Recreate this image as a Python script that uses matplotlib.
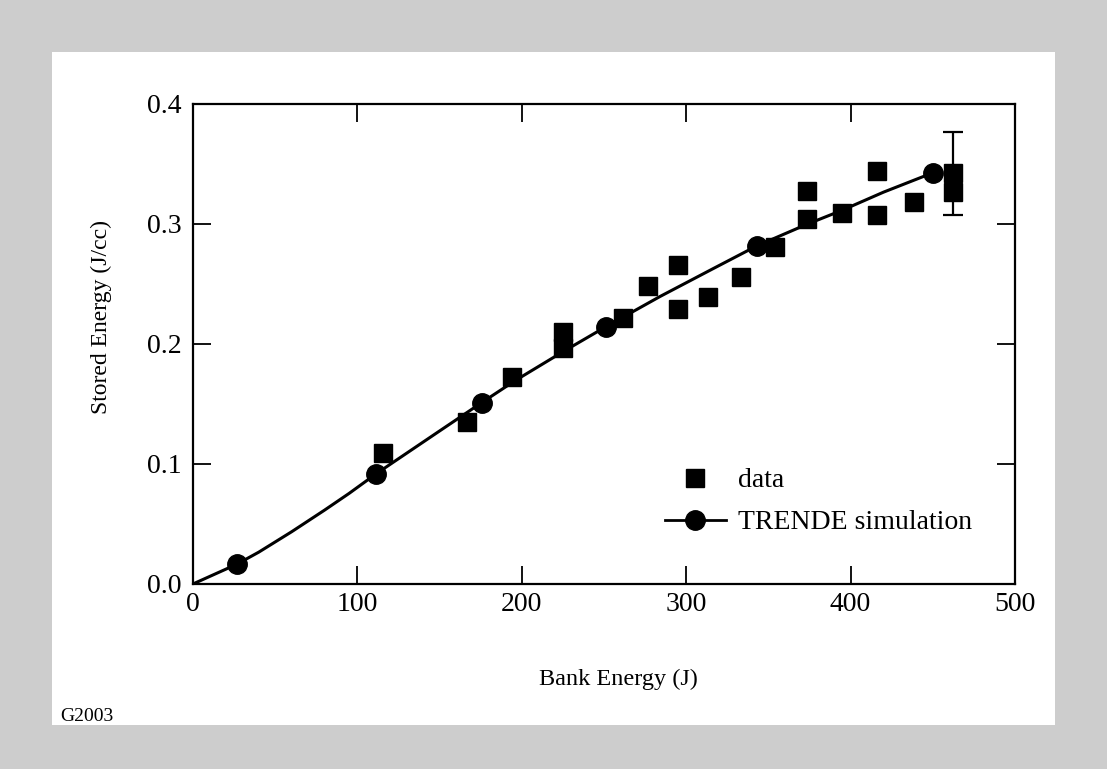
import matplotlib
matplotlib.use('Agg')
import matplotlib.pyplot as plt
from matplotlib.lines import Line2D
from matplotlib.patches import Rectangle

# =====================================
# DATA
# =====================================

data_x = [115.4, 166.5, 193.8, 225.3, 225.3, 261.4, 276.6, 295.2, 295.2, 313.5,
          333.3, 354.0, 373.3, 373.3, 394.6, 416.3, 416.3, 438.6, 462.1, 462.1]
data_y = [0.1089, 0.1353, 0.1728, 0.2103, 0.1964, 0.2214, 0.2483, 0.2658, 0.2292, 0.2394,
          0.2561, 0.2811, 0.3278, 0.3039, 0.3089, 0.3444, 0.3075, 0.3186, 0.3422, 0.3270]

# the single point with an error bar
err_x = [462.1]
err_y = [0.3422]
err_dy = [0.0345]

# TRENDE simulation curve and its marked points
curve_x = [0, 26.6, 40, 60, 80, 95, 111.3, 130, 150, 175.6, 196, 225, 251.2,
           284, 316, 342.9, 373, 395, 420, 450.3]
curve_y = [0, 0.0164, 0.0265, 0.0435, 0.0615, 0.0755, 0.0917, 0.109, 0.1275, 0.1511,
           0.1695, 0.1935, 0.2144, 0.2395, 0.2625, 0.2817, 0.2995, 0.3115, 0.3265, 0.3428]

sim_x = [26.6, 111.3, 175.6, 251.2, 342.9, 450.3]
sim_y = [0.0164, 0.0917, 0.1511, 0.2144, 0.2817, 0.3428]

x_ticks = [0, 100, 200, 300, 400, 500]
y_ticks = [0.0, 0.1, 0.2, 0.3, 0.4]

# =====================================
# FIGURE
# =====================================

plt.rcParams['font.family'] = ['Liberation Serif', 'DejaVu Serif']

fig = plt.figure(figsize=(11.07, 7.69), dpi=100)
fig.patch.set_facecolor('#cdcdcd')
fig.patches.append(Rectangle((0.047, 0.0572), 0.906, 0.8752, transform=fig.transFigure,
                             facecolor='white', edgecolor='none', zorder=-5))

ax = fig.add_axes([0.1743, 0.2406, 0.7426, 0.6242])
ax.set_facecolor('white')

ax.plot(curve_x, curve_y, color='black', lw=2.2, zorder=2)
ax.plot(data_x, data_y, 's', color='black', ms=13, zorder=3)
ax.plot(sim_x, sim_y, 'o', color='black', ms=14, zorder=4)
ax.errorbar(err_x, err_y, yerr=err_dy, fmt='none', ecolor='black',
            elinewidth=1.6, capsize=7, capthick=1.6, zorder=3)

ax.set_xlim(0, 500)
ax.set_ylim(0, 0.4)
ax.set_xticks(x_ticks)
ax.set_yticks(y_ticks)
ax.set_xticklabels([str(t) for t in x_ticks])
ax.set_yticklabels([f'{t:.1f}' for t in y_ticks])

ax.tick_params(direction='in', length=13, width=1.3, top=True, right=True,
               labelsize=20, colors='black')
ax.tick_params(axis='x', pad=6)
ax.tick_params(axis='y', pad=8)
for sp in ax.spines.values():
    sp.set_linewidth(1.6)

ax.set_xlabel('Bank Energy (J)', fontsize=17.5)
ax.set_ylabel('Stored Energy (J/cc)', fontsize=17)
ax.xaxis.set_label_coords(0.518, -0.176)
ax.yaxis.set_label_coords(-0.098, 0.556)

# =====================================
# LEGEND
# =====================================

handles = [
    Line2D([], [], ls='none', marker='s', color='black', ms=13),
    Line2D([], [], ls='-', lw=2, marker='o', color='black', ms=14),
]
ax.legend(handles, ['data', 'TRENDE simulation'], loc='upper left',
          bbox_to_anchor=(0.574, 0.242), frameon=False, fontsize=20,
          handlelength=2.2, handletextpad=0.43, labelspacing=0.6,
          borderpad=0, borderaxespad=0, numpoints=1)

fig.text(0.054, 0.062, 'G2003', fontsize=14)

fig.savefig('out.png', dpi=100)
